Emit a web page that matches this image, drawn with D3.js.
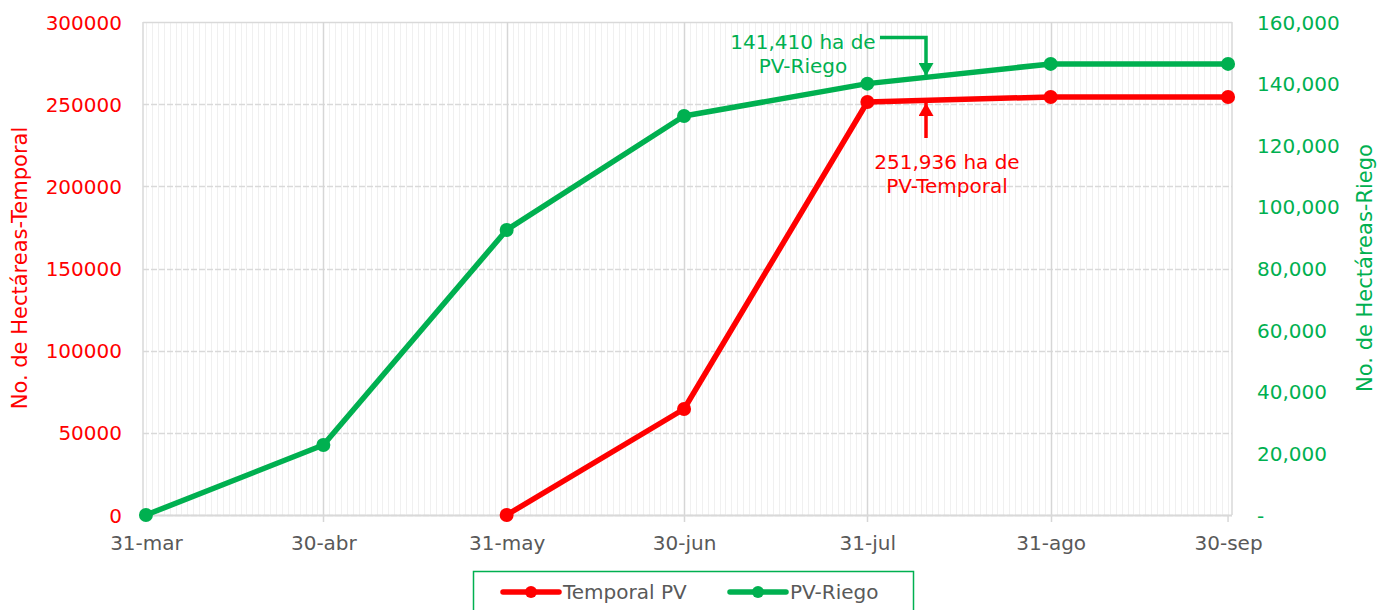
<!DOCTYPE html>
<html>
<head>
<meta charset="utf-8">
<script src="https://cdn.jsdelivr.net/npm/d3@7"></script>
<style>
  body { margin: 0; background: #fff; }
  text { font-family: "DejaVu Sans", sans-serif; }
</style>
</head>
<body>
<div id="chart"></div>
<script>
// fechas de corte
const fechas = ["2023-03-31", "2023-04-30", "2023-05-31", "2023-06-30", "2023-07-31", "2023-08-31", "2023-09-30"];
const etiquetasX = ["31-mar", "30-abr", "31-may", "30-jun", "31-jul", "31-ago", "30-sep"];
// series (null = sin dato)
const temporal = [null, null, 0, 64500, 251300, 254400, 254400];
const riego = [0, 22700, 92500, 129500, 140000, 146400, 146400];
const ticksIzq = [0, 50000, 100000, 150000, 200000, 250000, 300000];
const ticksDer = [0, 20000, 40000, 60000, 80000, 100000, 120000, 140000, 160000];

const W = 1378, H = 610;
const rojo = "#FF0000", verde = "#00B050", gris = "#595959";
const parse = d3.timeParse("%Y-%m-%d");
const dias = fechas.map(parse);

const svg = d3.select("#chart").append("svg").attr("width", W).attr("height", H);

const x0 = 143, x1 = 1232, yTop = 22, yBot = 515;
const x = d3.scaleTime()
  .domain([d3.timeHour.offset(dias[0], -12), d3.timeHour.offset(dias[6], 16)])
  .range([x0, x1]);
const yL = d3.scaleLinear().domain([0, 300000]).range([yBot, yTop]);
const yR = d3.scaleLinear().domain([0, 160000]).range([yBot, yTop]);

// grilla menor diaria
const g = svg.append("g");
g.selectAll(".menor").data(d3.timeDay.range(d3.timeDay.ceil(x.domain()[0]), x.domain()[1]))
  .enter().append("line")
  .attr("x1", d => Math.round(x(d)) + 0.5).attr("x2", d => Math.round(x(d)) + 0.5)
  .attr("y1", yTop).attr("y2", yBot)
  .attr("stroke", "#f0f0f0").attr("stroke-width", 1);

// grilla horizontal
g.selectAll(".hor").data(ticksIzq).enter().append("line")
  .attr("x1", x0).attr("x2", x1)
  .attr("y1", d => Math.round(yL(d)) + 0.5).attr("y2", d => Math.round(yL(d)) + 0.5)
  .attr("stroke", "#d9d9d9").attr("stroke-width", 1.5)
  .attr("stroke-dasharray", d => d === 300000 ? null : "6,2");

// grilla mayor vertical
g.selectAll(".mayor").data(dias.slice(1, 6)).enter().append("line")
  .attr("x1", d => Math.round(x(d)) + 0.5).attr("x2", d => Math.round(x(d)) + 0.5)
  .attr("y1", yTop).attr("y2", yBot + 7)
  .attr("stroke", "#d6d6d6").attr("stroke-width", 1.5);
[x0, x1].forEach(v => {
  g.append("line").attr("x1", v).attr("x2", v).attr("y1", yTop).attr("y2", yBot)
    .attr("stroke", "#d9d9d9").attr("stroke-width", 1.5);
});
g.append("line").attr("x1", x(dias[6])).attr("x2", x(dias[6])).attr("y1", yBot).attr("y2", yBot + 7)
  .attr("stroke", "#d9d9d9").attr("stroke-width", 1.5);
g.append("line").attr("x1", x0).attr("x2", x1).attr("y1", yBot + 0.5).attr("y2", yBot + 0.5)
  .attr("stroke", "#d9d9d9").attr("stroke-width", 2);

// ejes
const ejeIzq = d3.axisLeft(yL).tickValues(ticksIzq).tickSize(0).tickPadding(0).tickFormat(d3.format("d"));
svg.append("g").attr("transform", `translate(122,0)`).call(ejeIzq)
  .call(s => s.select(".domain").remove())
  .selectAll("text").attr("fill", rojo).attr("font-size", 20).attr("dy", "0.35em");

const fmtDer = d => d === 0 ? "-" : d3.format(",")(d);
const ejeDer = d3.axisRight(yR).tickValues(ticksDer).tickSize(0).tickPadding(0).tickFormat(fmtDer);
svg.append("g").attr("transform", `translate(1257,0)`).call(ejeDer)
  .call(s => s.select(".domain").remove())
  .selectAll("text").attr("fill", verde).attr("font-size", 20).attr("dy", "0.35em");

const ejeX = d3.axisBottom(x).tickValues(dias).tickSize(0).tickPadding(0)
  .tickFormat((d, i) => etiquetasX[i]);
svg.append("g").attr("transform", `translate(0,${yBot + 28})`).call(ejeX)
  .call(s => s.select(".domain").remove())
  .selectAll("text").attr("fill", gris).attr("font-size", 20).attr("dy", "0.35em");

// títulos de ejes
svg.append("text").attr("transform", `translate(27,268) rotate(-90)`)
  .attr("text-anchor", "middle").attr("fill", rojo).attr("font-size", 21)
  .text("No. de Hectáreas-Temporal");
svg.append("text").attr("transform", `translate(1372,268) rotate(-90)`)
  .attr("text-anchor", "middle").attr("fill", verde).attr("font-size", 21)
  .text("No. de Hectáreas-Riego");

// series
function serie(vals, y, color) {
  const pts = dias.map((d, i) => ({ d, v: vals[i] })).filter(p => p.v !== null);
  const line = d3.line().x(p => x(p.d)).y(p => y(p.v));
  svg.append("path").datum(pts).attr("d", line)
    .attr("fill", "none").attr("stroke", color).attr("stroke-width", 5.5)
    .attr("stroke-linejoin", "round");
  svg.selectAll(null).data(pts).enter().append("circle")
    .attr("cx", p => x(p.d)).attr("cy", p => y(p.v)).attr("r", 7).attr("fill", color);
}
serie(riego, yR, verde);
serie(temporal, yL, rojo);

// anotaciones
const defs = svg.append("defs");
[["fr", rojo], ["fv", verde]].forEach(([id, c]) => {
  defs.append("marker").attr("id", id).attr("viewBox", "0 0 10 10").attr("refX", 10).attr("refY", 5)
    .attr("markerUnits", "userSpaceOnUse").attr("markerWidth", 13).attr("markerHeight", 15)
    .attr("orient", "auto").attr("preserveAspectRatio", "none")
    .append("path").attr("d", "M0,0 L10,5 L0,10 z").attr("fill", c);
});
svg.append("path").attr("d", "M880,37.5 H926 V76").attr("fill", "none")
  .attr("stroke", verde).attr("stroke-width", 3.5).attr("marker-end", "url(#fv)");
svg.append("path").attr("d", "M926,138 V103").attr("fill", "none")
  .attr("stroke", rojo).attr("stroke-width", 3.5).attr("marker-end", "url(#fr)");

const notaV = svg.append("text").attr("text-anchor", "middle").attr("fill", verde).attr("font-size", 20);
notaV.append("tspan").attr("x", 803).attr("y", 49).text("141,410 ha de");
notaV.append("tspan").attr("x", 803).attr("y", 73).text("PV-Riego");
const notaR = svg.append("text").attr("text-anchor", "middle").attr("fill", rojo).attr("font-size", 20);
notaR.append("tspan").attr("x", 947).attr("y", 169).text("251,936 ha de");
notaR.append("tspan").attr("x", 947).attr("y", 193).text("PV-Temporal");

// leyenda
const ley = svg.append("g");
ley.append("rect").attr("x", 473.5).attr("y", 571.5).attr("width", 440).attr("height", 50)
  .attr("fill", "#fff").attr("stroke", verde).attr("stroke-width", 1.5);
[["Temporal PV", rojo, 503], ["PV-Riego", verde, 730]].forEach(([t, c, lx]) => {
  ley.append("line").attr("x1", lx).attr("x2", lx + 56).attr("y1", 592).attr("y2", 592)
    .attr("stroke", c).attr("stroke-width", 5.5).attr("stroke-linecap", "round");
  ley.append("circle").attr("cx", lx + 28).attr("cy", 592).attr("r", 6).attr("fill", c);
  ley.append("text").attr("x", lx + 60).attr("y", 592).attr("dy", "0.35em")
    .attr("fill", gris).attr("font-size", 20).text(t);
});
</script>
</body>
</html>
